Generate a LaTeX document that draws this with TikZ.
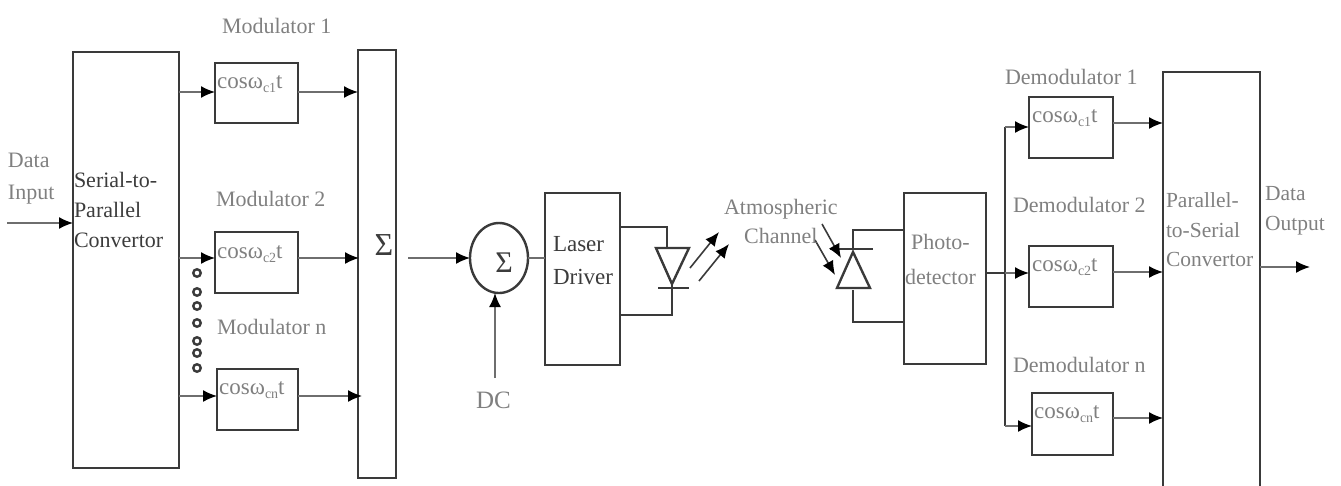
\documentclass[tikz,border=0pt]{standalone}
\usepackage{fontspec}
\setmainfont{Liberation Serif}
\usetikzlibrary{arrows.meta,shapes.geometric}
\definecolor{ln}{HTML}{3A3A3A}
\definecolor{ln2}{HTML}{6E6E6E}
\definecolor{tx1}{HTML}{3C3C3C}
\definecolor{tx2}{HTML}{808080}
\newcommand{\cosw}[1]{cosω\raisebox{-4pt}{\fontsize{14}{15}\selectfont c#1}t}
\tikzset{
  x=1pt,y=-1pt,
  box/.style={draw=ln,line width=2.4pt,rectangle,inner sep=0pt,outer sep=0pt},
  arr/.style={draw=ln2,line width=1.6pt,-{Latex[length=14pt,width=12pt,color=black]}},
  wire/.style={draw=ln,line width=2.4pt,line join=miter},
  plain/.style={draw=ln2,line width=1.6pt},
  lab/.style={font=\fontsize{22}{30}\selectfont,inner sep=0pt,outer sep=0pt,align=left,anchor=north west,text=tx1},
  glab/.style={lab,text=tx2},
  cw/.style={font=\fontsize{23}{26}\selectfont,inner sep=0pt,anchor=base west,text=tx2},
  dot/.style={circle,draw=ln,line width=2.4pt,minimum size=7.5pt,inner sep=0pt},
}
\begin{document}
\begin{tikzpicture}
\useasboundingbox (0,0) rectangle (1341,485);
\clip (0,0) rectangle (1341,485);
% blocks
\node[box,minimum width=106pt,minimum height=416pt] (s2p) at (126,260) {};
\node[box,minimum width=83pt,minimum height=60pt] (m1) at (256.5,93) {};
\node[box,minimum width=83pt,minimum height=61pt] (m2) at (256.5,262.5) {};
\node[box,minimum width=81pt,minimum height=61pt] (mn) at (257.5,399.5) {};
\node[box,minimum width=38pt,minimum height=428pt] (sum) at (377,264) {};
\node[draw=ln,line width=2.4pt,ellipse,minimum width=58pt,minimum height=70pt,inner sep=0pt,outer sep=0pt] (add) at (499,258) {};
\node[box,minimum width=75pt,minimum height=172pt] (ld) at (582.5,279) {};
\node[box,minimum width=82pt,minimum height=171pt] (pd) at (945,278.5) {};
\node[box,minimum width=84pt,minimum height=61pt] (d1) at (1071,127.5) {};
\node[box,minimum width=84pt,minimum height=61pt] (d2) at (1071,276.5) {};
\node[box,minimum width=81pt,minimum height=62pt] (dn) at (1072.5,424) {};
\node[box,minimum width=97pt,minimum height=430pt] (p2s) at (1211.5,287) {};
% dots
\foreach \n/\yy in {1/273,2/292,3/306,4/323,5/341,6/353,7/368}
  \node[dot] (dot\n) at (197,\yy) {};
% free ends and connection points
\coordinate (in0) at (7,223);
\coordinate (a1) at (215,92);
\coordinate (a2) at (215,258);
\coordinate (a3) at (217,396);
\coordinate (b1) at (358,92);
\coordinate (b2) at (359,258);
\coordinate (b3) at (362,396);
\coordinate (c0) at (408,258);
\coordinate (dc) at (495,378);
\coordinate (bus1) at (1005,127);
\coordinate (bus2) at (1005,273);
\coordinate (bus3) at (1005,426);
\coordinate (e1) at (1163,123);
\coordinate (e2) at (1163,272);
\coordinate (e3) at (1163,418);
\coordinate (out) at (1310,267);
% connectors
\draw[arr] (in0) -- (in0 -| s2p.west);
\draw[arr] (a1 -| s2p.east) -- (a1);
\draw[arr] (a2 -| s2p.east) -- (a2);
\draw[arr] (a3 -| s2p.east) -- (a3);
\draw[arr] (b1 -| m1.east) -- (b1);
\draw[arr] (b2 -| m2.east) -- (b2);
\draw[arr] (b3 -| mn.east) -- (b3);
\draw[arr] (c0) -- (add.west);
\draw[arr] (dc) -- (dc |- add.south);
\draw[plain] (add.east) -- (add.east -| ld.west);
\draw[wire] (pd.east |- bus2) -- (bus2);
\draw[wire] (bus1) -- (bus3);
\draw[arr] (bus1) -- (bus1 -| d1.west);
\draw[arr] (bus2) -- (bus2 -| d2.west);
\draw[arr] (bus3) -- (bus3 -| dn.west);
\draw[arr] (e1 -| d1.east) -- (e1);
\draw[arr] (e2 -| d2.east) -- (e2);
\draw[arr] (e3 -| dn.east) -- (e3);
\draw[arr] (out -| p2s.east) -- (out);
% laser diode
\coordinate (la) at (667,248);
\coordinate (lk) at (672,288);
\draw[wire] (ld.east |- 0,227) -| (la);
\draw[wire] (656,248) -- (689,248) -- (672,284) -- cycle;
\draw[wire] (658,288) -- (689,288);
\draw[wire] (672,284) -- (672,315) -- (ld.east |- 0,315);
\draw[arr,draw=ln] (690,268) -- (719,232);
\draw[arr,draw=ln] (699,281) -- (729,244);
% photodiode
\draw[wire] (pd.west |- 0,230) -| (853,250);
\draw[wire] (830,249) -- (873,249);
\draw[wire] (853,252) -- (837,288) -- (870,288) -- cycle;
\draw[wire] (853,290) |- (pd.west |- 0,322);
\draw[arr,draw=ln] (822,224) -- (841,258);
\draw[arr,draw=ln] (815,240) -- (835,275);
% labels
\node[glab] (tm1) at (222,18) {Modulator 1};
\node[glab] (tm2) at (216,191) {Modulator 2};
\node[glab] (tmn) at (217,319) {Modulator n};
\node[glab] (tin) at (8,153) {Data\\[2pt]Input};
\node[lab] (ts) at (74,172) {Serial-to-\\Parallel\\Convertor};
\node[cw] (c1) at (217,88) {\cosw{1}};
\node[cw] (c2) at (217,258) {\cosw{2}};
\node[cw] (c3) at (219,394) {\cosw{n}};
\node[font=\fontsize{32}{34}\selectfont,text=tx1,inner sep=0pt] (s1) at (384,245) {Σ};
\node[font=\fontsize{30}{32}\selectfont,text=tx1,inner sep=0pt] (s2) at (504,263) {Σ};
\node[lab,font=\fontsize{23}{33}\selectfont] (tl) at (553,236) {Laser\\Driver};
\node[glab,font=\fontsize{25}{26}\selectfont] (tdc) at (476,392) {DC};
\node[glab,align=center,font=\fontsize{22}{29.5}\selectfont] (ta) at (724,199) {Atmospheric\\Channel};
\node[glab,align=center,font=\fontsize{22}{35}\selectfont] (tp) at (905,234) {Photo-\\detector};
\node[glab,font=\fontsize{22}{26}\selectfont] (td1) at (1005,69) {Demodulator 1};
\node[glab,font=\fontsize{22}{26}\selectfont] (td2) at (1013,197) {Demodulator 2};
\node[glab,font=\fontsize{22}{26}\selectfont] (tdn) at (1013,357) {Demodulator n};
\node[cw] (e1t) at (1032,122) {\cosw{1}};
\node[cw] (e2t) at (1032,271) {\cosw{2}};
\node[cw] (e3t) at (1034,418) {\cosw{n}};
\node[glab,font=\fontsize{21.5}{29.5}\selectfont] (tps) at (1166,193) {Parallel-\\to-Serial\\Convertor};
\node[glab,font=\fontsize{21.5}{30}\selectfont] (tout) at (1265,186) {Data\\Output};
\end{tikzpicture}
\end{document}
